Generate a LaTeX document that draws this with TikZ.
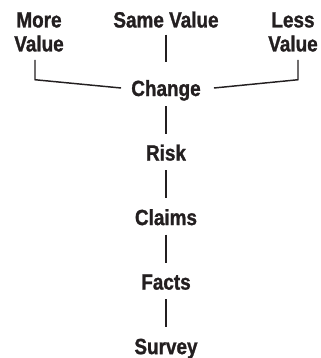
\documentclass[tikz,border=0pt]{standalone}
\usepackage{fontspec}
\setmainfont{Liberation Sans}[FakeStretch=0.86, FakeBold=1.2]
\usetikzlibrary{positioning}
\definecolor{InkBlack}{HTML}{231F20}

\begin{document}
\begin{tikzpicture}[node distance=36pt, x=1pt, y=1pt,
  word/.style={text=InkBlack, inner sep=0pt, font=\fontsize{16.5}{18}\selectfont\bfseries, text height=12pt, text depth=0pt},
  tag/.style={text=InkBlack, inner sep=0pt, align=center, font=\fontsize{16.5}{18}\selectfont\bfseries},
  link/.style={draw=InkBlack, line width=1.1pt}]
  \useasboundingbox (0,0) rectangle (240.75,-268.5);
  \node[word] (change) at (124.5,-66) {Change};
  \node[word, below=of change] (risk) {Risk};
  \node[word, below=of risk] (claims) {Claims};
  \node[word, below=of claims] (facts) {Facts};
  \node[word, below=of facts] (survey) {Survey};
  \node[word, above=39pt of change] (same) {Same Value};
  \node[tag, anchor=north] (more) at (29.25,-9) {More\\Value};
  \node[tag, anchor=north] (less) at (219.75,-9) {Less\\Value};
  % chain down
  \draw[link, shorten <=7.5pt, shorten >=8pt] (change) -- (risk);
  \draw[link, shorten <=7pt, shorten >=8pt] (risk) -- (claims);
  \draw[link, shorten <=7pt, shorten >=8pt] (claims) -- (facts);
  \draw[link, shorten <=7pt, shorten >=8pt] (facts) -- (survey);
  \draw[link, shorten <=5.25pt, shorten >=13.5pt] (same) -- (change);
  % the two brackets
  \draw[link] ([xshift=-3pt,yshift=-6pt]more.south) -- ([xshift=-3pt]more.south |- change.north) -- ([xshift=-7.5pt]change.west);
  \draw[link] ([xshift=3.75pt,yshift=-6pt]less.south) -- ([xshift=3.75pt]less.south |- change.north) -- ([xshift=9.75pt]change.east);
\end{tikzpicture}
\end{document}
